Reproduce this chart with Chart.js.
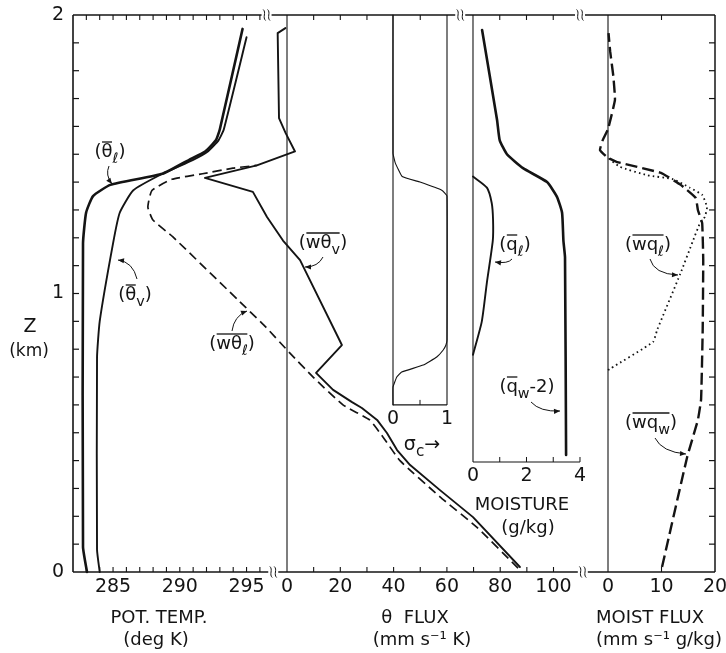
<!DOCTYPE html>
<html><head><meta charset="utf-8">
<script src="https://cdn.jsdelivr.net/npm/chart.js@4/dist/chart.umd.min.js"></script>
<style>html,body{margin:0;padding:0;background:#fff;}#wrap{width:726px;height:653px;}</style>
</head><body><div id="wrap"><canvas id="c" width="726" height="653"></canvas></div>
<script>
// ---------------- DATA ----------------
// heights in km
const zThetaL = [0, 0.09, 1.18, 1.29, 1.35, 1.39, 1.43, 1.48, 1.51, 1.55, 1.59, 1.95];
const thetaL  = [283.05, 282.75, 282.75, 282.98, 283.5, 284.8, 288.7, 290.7, 291.9, 292.7, 293.0, 294.7];
const zThetaV = [0, 0.08, 0.77, 0.9, 1.18, 1.29, 1.37, 1.43, 1.48, 1.51, 1.55, 1.59, 1.92];
const thetaV  = [284.0, 283.8, 283.8, 284.0, 285.0, 285.5, 286.5, 288.7, 291.0, 292.1, 292.9, 293.3, 295.0];

const zWThetaV = [0.018, 0.197, 0.294, 0.384, 0.438, 0.499, 0.546, 0.589, 0.610, 0.654, 0.715, 0.815, 1.12, 1.19, 1.275, 1.365, 1.415, 1.46, 1.51, 1.576, 1.63, 1.935, 1.953];
const wThetaV  = [87.4, 69.8, 57.4, 46.2, 41.3, 37.5, 33.8, 28.1, 24.4, 17.3, 10.9, 20.6, 4.9, -1.5, -7.5, -12.8, -30.8, -11.3, 3.0, -0.5, -3.0, -3.5, -0.6];
const zWThetaL = [0.014, 0.16, 0.27, 0.40, 0.485, 0.546, 0.60, 0.70, 0.786, 0.88, 0.95, 1.203, 1.264, 1.31, 1.37, 1.41, 1.43, 1.45, 1.46];
const wThetaL  = [86.7, 71.3, 57.4, 42.4, 36.0, 31.0, 21.0, 9.8, 1.1, -8.0, -15.5, -42.8, -50.3, -52.2, -50.7, -43.2, -31.7, -20.3, -11.3];

const zSigma = [0.6, 0.664, 0.70, 0.718, 0.743, 0.772, 0.797, 0.815, 0.833, 1.35, 1.37, 1.40, 1.42, 1.47, 1.504, 2.0];
const sigmaC = [0, 0, 0.07, 0.16, 0.56, 0.81, 0.93, 0.98, 1.0, 1.0, 0.91, 0.5, 0.17, 0.04, 0, 0];

const zQl = [0.78, 0.90, 1.04, 1.19, 1.264, 1.325, 1.38, 1.42];
const qL  = [0, 0.33, 0.52, 0.74, 0.75, 0.70, 0.52, 0];
const zQw = [0.42, 1.13, 1.19, 1.29, 1.347, 1.40, 1.45, 1.50, 1.55, 1.623, 1.946];
const qWminus2 = [3.48, 3.44, 3.38, 3.33, 3.14, 2.77, 1.87, 1.27, 1.0, 0.9, 0.34];

const zWQw = [0.018, 0.413, 0.546, 0.62, 0.87, 1.12, 1.253, 1.30, 1.343, 1.39, 1.433, 1.472, 1.487, 1.515, 1.55, 1.59, 1.695, 1.78, 1.87, 1.935];
const wQw  = [10.1, 14.8, 16.8, 17.4, 17.7, 17.8, 17.6, 16.8, 16.4, 13.6, 9.9, 1.7, 0, -1.5, -1.0, 0, 1.3, 1.0, 0.4, 0.1];
const zWQl = [0.725, 0.73, 0.826, 0.87, 1.07, 1.19, 1.253, 1.275, 1.31, 1.354, 1.38, 1.41, 1.425, 1.455, 1.487];
const wQl  = [0, 0.4, 8.4, 9.2, 13.5, 15.9, 17.2, 18.1, 18.5, 17.6, 15.3, 12.2, 7.3, 2.2, 0];

// ticks
const zTickLabels = [0, 1, 2];
const zMinorTicks = [0.1,0.2,0.3,0.4,0.5,0.6,0.7,0.8,0.9,1.0,1.1,1.2,1.3,1.4,1.5,1.6,1.7,1.8,1.9];
const tempTickLabels = [285, 290, 295];
const tempTicks = [283,284,285,286,287,288,289,290,291,292,293,294,295,296];
const fluxTickLabels = [0, 20, 40, 60, 80, 100];
const fluxTicksBottom = [10,20,30,40,50,60,70,80,90,100];
const fluxTicksTop = [10,20,30,50];
const sigmaTickLabels = [0, 1];
const sigmaTicks = [0.5];
const moistTickLabels = [0, 2, 4];
const moistTicks = [1, 2, 3, 4];
const moistTicksTop = [1, 2, 3];
const mfluxTickLabels = [0, 10, 20];
const mfluxTicks = [10];

// ---------------- CHART ----------------
const INK = '#141414';
function series(xs, zs, axis, style){
  return Object.assign({data: xs.map((v,i)=>({x:v, y:zs[i]})), xAxisID: axis, yAxisID:'y',
    showLine:true, pointRadius:0, pointHoverRadius:0, borderColor:INK, backgroundColor:INK,
    fill:false, tension:0, borderJoinStyle:'round', borderCapStyle:'round', clip:false}, style);
}
const datasets = [
  series(thetaL, zThetaL, 'xT', {borderWidth:2.6, tension:0.15}),
  series(thetaV, zThetaV, 'xT', {borderWidth:1.9, tension:0.15}),
  series(wThetaV, zWThetaV, 'xF', {borderWidth:1.9}),
  series(wThetaL, zWThetaL, 'xF', {borderWidth:1.7, borderDash:[9,5], tension:0.15, borderCapStyle:'butt'}),
  series(sigmaC, zSigma, 'xS', {borderWidth:1.1, tension:0.1}),
  series(qL, zQl, 'xM', {borderWidth:1.9, tension:0.2}),
  series(qWminus2, zQw, 'xM', {borderWidth:2.6, tension:0.15}),
  series(wQw, zWQw, 'xQ', {borderWidth:2.4, borderDash:[12,5], tension:0.1, borderCapStyle:'butt'}),
  series(wQl, zWQl, 'xQ', {borderWidth:1.8, borderDash:[1.6,3.2], tension:0.15, borderCapStyle:'butt'})
];

const FONT = '"DejaVu Sans", "Liberation Sans", sans-serif';

function squiggle(ctx, x, y){
  ctx.save();
  ctx.fillStyle = '#fff';
  ctx.fillRect(x-5, y-3, 10, 6);
  ctx.strokeStyle = INK; ctx.lineWidth = 1;
  for (const dx of [-2.2, 2.2]){
    ctx.beginPath();
    ctx.moveTo(x+dx-1.2, y-5.5);
    ctx.bezierCurveTo(x+dx+2.2, y-2.5, x+dx-2.2, y+2.5, x+dx+1.2, y+5.5);
    ctx.stroke();
  }
  ctx.restore();
}

function rich(ctx, parts, cx, cy, size){
  const sub = size*0.8;
  const widths = parts.map(p=>{
    ctx.font = (p.sub||p.sup ? sub : size) + 'px ' + FONT;
    return ctx.measureText(p.t).width;
  });
  const total = widths.reduce((a,b)=>a+b,0);
  let x = cx - total/2;
  let barMin = Infinity, barMax = -Infinity;
  ctx.textBaseline = 'alphabetic'; ctx.textAlign = 'left';
  const base = cy + size*0.36;
  parts.forEach((p,i)=>{
    ctx.font = (p.sub||p.sup ? sub : size) + 'px ' + FONT;
    let y = base;
    if (p.sub) y = base + size*0.32;
    if (p.sup) y = base - size*0.42;
    ctx.fillText(p.t, x, y);
    if (p.bar){ barMin = Math.min(barMin, x); barMax = Math.max(barMax, x+widths[i]); }
    x += widths[i];
  });
  if (barMin < barMax){
    ctx.beginPath(); ctx.lineWidth = 1.3;
    const by = base - size*0.86;
    ctx.moveTo(barMin+0.5, by); ctx.lineTo(barMax-0.5, by); ctx.stroke();
  }
}

function arrow(ctx, a){
  const [x0,y0,cx,cy,x1,y1] = a;
  ctx.beginPath(); ctx.lineWidth = 1;
  ctx.moveTo(x0,y0); ctx.quadraticCurveTo(cx,cy,x1,y1); ctx.stroke();
  const ang = Math.atan2(y1-cy, x1-cx);
  const L = 6, W = 2.6;
  ctx.beginPath();
  ctx.moveTo(x1, y1);
  ctx.lineTo(x1 - L*Math.cos(ang) + W*Math.sin(ang), y1 - L*Math.sin(ang) - W*Math.cos(ang));
  ctx.lineTo(x1 - L*Math.cos(ang) - W*Math.sin(ang), y1 - L*Math.sin(ang) + W*Math.cos(ang));
  ctx.closePath(); ctx.fill();
}

const framePlugin = {
  id: 'frame',
  beforeDatasetsDraw(chart){
    const ctx = chart.ctx, s = chart.scales;
    const y = s.y, T = s.xT, F = s.xF, S = s.xS, M = s.xM, Q = s.xQ;
    const top = y.getPixelForValue(2), bot = y.getPixelForValue(0);
    const left = T.getPixelForValue(282), right = Q.getPixelForValue(20);
    ctx.save();
    ctx.strokeStyle = INK; ctx.fillStyle = INK; ctx.lineCap = 'butt';
    const line = (x0,y0,x1,y1,w)=>{ctx.beginPath(); ctx.lineWidth=w; ctx.moveTo(x0,y0); ctx.lineTo(x1,y1); ctx.stroke();};
    line(left, top, left, bot, 1.6);
    line(right, top, right, bot, 1.5);
    line(left, top, right, top, 1.4);
    line(left, bot, right, bot, 1.4);
    const f0 = F.getPixelForValue(0), q0 = Q.getPixelForValue(0);
    line(f0, top, f0, bot, 1.1);
    line(q0, top, q0, bot, 1.1);
    const sB = y.getPixelForValue(0.6);
    const s0 = S.getPixelForValue(0), s1 = S.getPixelForValue(1);
    line(s0, top, s0, sB, 1.1); line(s1, top, s1, sB, 1.1); line(s0, sB, s1, sB, 1.1);
    sigmaTicks.forEach(v=>{const x=S.getPixelForValue(v); line(x, sB, x, sB-5, 1);});
    const mB = y.getPixelForValue(0.395);
    const m0 = M.getPixelForValue(0), m4 = M.getPixelForValue(4);
    line(m0, top, m0, mB, 1.1); line(m0, mB, m4, mB, 1.1);
    moistTicks.forEach(v=>{const x=M.getPixelForValue(v); line(x, mB, x, mB-5, 1);});
    zMinorTicks.forEach(z=>{const yy=y.getPixelForValue(z); line(left, yy, left+6, yy, 1.2); line(right, yy, right-6, yy, 1.2);});
    tempTicks.forEach(v=>{const x=T.getPixelForValue(v); line(x, bot, x, bot-5, 1.1);});
    fluxTicksBottom.forEach(v=>{const x=F.getPixelForValue(v); line(x, bot, x, bot-5, 1.1);});
    mfluxTicks.forEach(v=>{const x=Q.getPixelForValue(v); line(x, bot, x, bot-5, 1.1);});
    tempTicks.forEach(v=>{const x=T.getPixelForValue(v); line(x, top, x, top+5, 1.1);});
    fluxTicksTop.forEach(v=>{const x=F.getPixelForValue(v); line(x, top, x, top+5, 1.1);});
    moistTicksTop.forEach(v=>{const x=M.getPixelForValue(v); line(x, top, x, top+5, 1.1);});
    mfluxTicks.forEach(v=>{const x=Q.getPixelForValue(v); line(x, top, x, top+5, 1.1);});
    squiggle(ctx, T.getPixelForValue(296.5), top);
    squiggle(ctx, F.getPixelForValue(65), top);
    squiggle(ctx, M.getPixelForValue(4), top);
    squiggle(ctx, T.getPixelForValue(297), bot);
    squiggle(ctx, F.getPixelForValue(111), bot);
    ctx.restore();
  },
  afterDatasetsDraw(chart){
    const ctx = chart.ctx, s = chart.scales;
    const y = s.y, T = s.xT, F = s.xF, S = s.xS, M = s.xM, Q = s.xQ;
    const bot = y.getPixelForValue(0);
    const left = T.getPixelForValue(282);
    ctx.save();
    ctx.fillStyle = INK; ctx.strokeStyle = INK;
    ctx.textBaseline = 'middle';
    ctx.font = '19px ' + FONT; ctx.textAlign = 'right';
    zTickLabels.forEach(z=>ctx.fillText(String(z), left-9, y.getPixelForValue(z)));
    ctx.textAlign = 'center';
    ctx.fillText('Z', 30, 327);
    ctx.font = '17px ' + FONT; ctx.fillText('(km)', 29, 352);
    ctx.font = '19px ' + FONT;
    const ly = bot + 15;
    tempTickLabels.forEach(v=>ctx.fillText(String(v), T.getPixelForValue(v), ly));
    fluxTickLabels.forEach(v=>ctx.fillText(String(v), F.getPixelForValue(v), ly));
    mfluxTickLabels.forEach(v=>ctx.fillText(String(v), Q.getPixelForValue(v), ly));
    const sB = y.getPixelForValue(0.6), mB = y.getPixelForValue(0.395);
    sigmaTickLabels.forEach(v=>ctx.fillText(String(v), S.getPixelForValue(v), sB+14));
    moistTickLabels.forEach(v=>ctx.fillText(String(v), M.getPixelForValue(v), mB+14));
    ctx.font = '18px ' + FONT;
    ctx.fillText('POT. TEMP.', 159, 618);
    ctx.fillText('(deg K)', 156, 640);
    ctx.fillText('θ  FLUX', 415, 618);
    ctx.fillText('(mm s⁻¹ K)', 422, 640);
    ctx.fillText('MOIST FLUX', 650, 618);
    ctx.fillText('(mm s⁻¹ g/kg)', 659, 640);
    ctx.fillText('MOISTURE', 522, 505);
    ctx.fillText('(g/kg)', 528, 528);
    rich(ctx, [{t:'σ'},{t:'c', sub:true},{t:'→'}], 422, 443, 19);
    const L = 18;
    rich(ctx, [{t:'('},{t:'θ',bar:true},{t:'ℓ',sub:true},{t:')'}], 110, 151, L);
    rich(ctx, [{t:'('},{t:'θ',bar:true},{t:'v',sub:true},{t:')'}], 135, 294, L);
    rich(ctx, [{t:'('},{t:'w',bar:true},{t:'θ',bar:true},{t:'v',sub:true,bar:true},{t:')'}], 323, 242, L);
    rich(ctx, [{t:'('},{t:'w',bar:true},{t:'θ',bar:true},{t:'ℓ',sub:true,bar:true},{t:')'}], 232, 343, L);
    rich(ctx, [{t:'('},{t:'q',bar:true},{t:'ℓ',sub:true},{t:')'}], 515, 244, L);
    rich(ctx, [{t:'('},{t:'q',bar:true},{t:'w',sub:true},{t:'-2'},{t:')'}], 527, 386, L);
    rich(ctx, [{t:'('},{t:'w',bar:true},{t:'q',bar:true},{t:'ℓ',sub:true,bar:true},{t:')'}], 648, 244, L);
    rich(ctx, [{t:'('},{t:'w',bar:true},{t:'q',bar:true},{t:'w',sub:true,bar:true},{t:')'}], 651, 422, L);
    [[109,166,105,175,112,184],[137,279,133,262,118,260],[323,257,318,267,305,267],[232,331,234,316,247,311],
     [512,259,508,264,495,262],[531,402,540,412,560,411],[650,259,654,274,678,275],[655,438,662,452,686,454]]
     .forEach(a=>arrow(ctx,a));
    ctx.restore();
  }
};

new Chart(document.getElementById('c'), {
  type: 'scatter',
  data: { datasets },
  options: {
    responsive: false, animation: false, devicePixelRatio: 1,
    layout: { padding: { left: 73, top: 15, right: 11, bottom: 81 } },
    plugins: { legend: {display:false}, tooltip: {enabled:false}, title:{display:false} },
    events: [],
    scales: {
      y:  { type:'linear', min:0, max:2, display:false },
      xT: { type:'linear', axis:'x', min:282, max:330.09, display:false },
      xF: { type:'linear', axis:'x', min:-80.30, max:160.60, display:false },
      xS: { type:'linear', axis:'x', min:-5.926, max:5.963, display:false },
      xM: { type:'linear', axis:'x', min:-14.953, max:9.047, display:false },
      xQ: { type:'linear', axis:'x', min:-100, max:20, display:false }
    }
  },
  plugins: [framePlugin]
});
</script>
</body></html>
